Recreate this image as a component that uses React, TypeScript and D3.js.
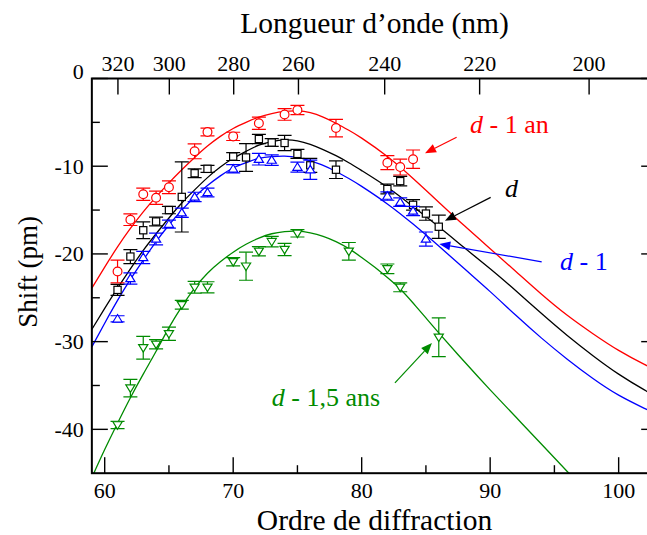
import React from 'react';
import * as d3 from 'd3';

const W = 647;
const H = 535;

// ---------- axes ----------
const orderDomain = [59, 103];
const shiftDomain = [-45, 0];
const bottomMajor = [60, 70, 80, 90, 100];
const bottomMinor = [65, 75, 85, 95];
const leftMajor = [0, -10, -20, -30, -40];
const leftMinor = [-5, -15, -25, -35];
const waveLabels = [320, 300, 280, 260, 240, 220, 200];
const waveOrders = [61.03, 65.03, 70.04, 75.08, 81.79, 89.18, 97.7];

// ---------- measured points ----------
const redOrders = [61, 62, 63, 64, 65, 67, 68, 70, 72, 74, 75, 78, 82, 83, 84];
const redValues = [-22.0, -16.1, -13.2, -13.6, -12.4, -8.3, -6.1, -6.6, -5.1, -4.1, -3.6, -5.65, -9.6, -10.1, -9.2];
const redErrors = [1.3, 0.66, 0.7, 0.75, 0.72, 0.85, 0.45, 0.47, 0.7, 0.66, 0.53, 1.0, 0.8, 0.9, 1.05];

const blackOrders = [61, 62, 63, 64, 65, 66, 67, 68, 70, 71, 72, 73, 74, 75, 76, 78, 82, 83, 84, 85, 86];
const blackValues = [-24.1, -20.3, -17.3, -16.3, -15.0, -13.5, -10.8, -10.3, -8.9, -9.0, -6.9, -7.3, -7.35, -8.6, -9.9, -10.4, -12.6, -11.7, -14.4, -15.4, -16.9];
const blackErrors = [0.63, 0.8, 0.95, 0.5, 0.42, 4.0, 0.5, 0.4, 0.45, 1.58, 0.53, 0.44, 0.87, 0.51, 0.8, 1.0, 0.55, 0.55, 0.6, 0.76, 1.33];

const blueOrders = [61, 62, 63, 64, 65, 66, 67, 68, 70, 72, 73, 75, 76, 82, 83, 84, 85];
const blueValues = [-27.4, -22.8, -20.4, -18.3, -16.6, -15.3, -13.5, -13.0, -10.3, -9.2, -9.3, -10.1, -10.4, -13.4, -14.1, -15.1, -18.3];
const blueErrors = [0.35, 0.65, 0.7, 0.66, 0.45, 0.53, 0.53, 0.5, 0.47, 0.66, 0.6, 0.57, 1.1, 0.48, 0.48, 0.53, 0.8];

const greenOrders = [61, 62, 63, 64, 65, 66, 67, 68, 70, 71, 72, 73, 74, 75, 79, 82, 83, 86];
const greenValues = [-39.5, -35.3, -30.7, -30.3, -29.1, -25.8, -23.8, -23.8, -20.9, -21.4, -19.7, -18.6, -19.5, -17.65, -19.7, -21.7, -23.8, -29.5];
const greenErrors = [0.42, 1.0, 1.3, 0.53, 0.76, 0.5, 0.66, 0.63, 0.47, 1.6, 0.53, 0.6, 0.7, 0.42, 1.0, 0.55, 0.51, 2.2];

// ---------- fitted curves ----------
const fitOrders = [59, 60, 61, 62, 63, 64, 65, 66, 67, 68, 69, 70, 71, 72, 73, 74, 75, 76, 77, 78, 79, 80, 82, 84, 86, 88, 90, 92, 94, 96, 98, 100, 102, 103];
const redFit = [-23.9, -21.5, -19.2, -17.1, -15.2, -13.5, -11.9, -10.4, -9.0, -7.7, -6.6, -5.7, -5.0, -4.4, -4.0, -3.75, -3.7, -3.9, -4.4, -5.1, -5.9, -6.8, -8.9, -11.4, -14.1, -16.8, -19.4, -22.0, -24.6, -27.0, -29.1, -31.0, -32.6, -33.3];
const blackFit = [-28.6, -26.2, -23.9, -21.7, -19.6, -17.7, -15.9, -14.2, -12.7, -11.3, -10.1, -9.1, -8.3, -7.6, -7.2, -7.0, -7.1, -7.5, -8.1, -8.8, -9.6, -10.5, -12.4, -14.6, -16.9, -19.3, -21.7, -24.2, -26.8, -29.3, -31.6, -33.7, -35.5, -36.3];
const blueFit = [-30.6, -27.9, -25.3, -22.9, -20.7, -18.6, -16.7, -15.0, -13.5, -12.2, -11.1, -10.2, -9.6, -9.1, -8.9, -8.85, -9.0, -9.4, -9.9, -10.6, -11.4, -12.3, -14.3, -16.6, -19.1, -21.7, -24.3, -27.0, -29.6, -32.0, -34.2, -36.1, -37.6, -38.3];
const greenFitOrders = [59, 60, 61, 62, 63, 64, 65, 66, 67, 68, 69, 70, 71, 72, 73, 74, 75, 76, 77, 78, 79, 80, 81, 82, 83, 84, 85, 86, 88, 90, 92, 94, 96, 97];
const greenFit = [-45.5, -42.3, -39.3, -36.4, -33.7, -31.1, -28.4, -26.0, -23.9, -22.2, -20.9, -19.8, -18.9, -18.2, -17.7, -17.45, -17.4, -17.6, -18.0, -18.6, -19.4, -20.4, -21.5, -22.7, -24.0, -25.6, -27.3, -29.0, -32.3, -35.5, -38.6, -41.7, -44.8, -46.3];

// ---------- annotations (data coordinates) ----------
const annoLabels = ['- 1 an', '', '- 1', '- 1,5 ans'];
const annoText = [[88.43, -6.2], [91.15, -13.5], [95.44, -21.85], [73.0, -37.3]];
const annoFrom = [[87.39, -6.7], [90.04, -13.55], [94.01, -20.9], [82.59, -34.7]];
const annoTo = [[84.93, -8.53], [86.48, -16.21], [86.04, -18.87], [85.47, -30.16]];

const RED = '#ff0000';
const BLACK = '#000000';
const BLUE = '#0000ff';
const GREEN = '#008b00';
const annoColors = [RED, BLACK, BLUE, GREEN];

const FONT = "'Liberation Serif', 'Times New Roman', Times, serif";

const x = d3.scaleLinear().domain(orderDomain).range([91.85, 657.2]);
const y = d3.scaleLinear().domain(shiftDomain).range([473.2, 78.5]);

type Kind = 'circle' | 'square' | 'up' | 'down';

function Marker({ cx, cy, kind, color }: { cx: number; cy: number; kind: Kind; color: string }) {
  const sw = 1.2;
  if (kind === 'circle') return <circle cx={cx} cy={cy} r={4.4} fill="white" stroke={color} strokeWidth={sw} />;
  if (kind === 'square') return <rect x={cx - 3.6} y={cy - 3.6} width={7.2} height={7.2} fill="white" stroke={color} strokeWidth={sw} />;
  if (kind === 'up') return <polygon points={`${cx},${cy - 4.3} ${cx + 4.6},${cy + 3.2} ${cx - 4.6},${cy + 3.2}`} fill="white" stroke={color} strokeWidth={sw} />;
  return <polygon points={`${cx},${cy + 4.3} ${cx + 4.6},${cy - 3.2} ${cx - 4.6},${cy - 3.2}`} fill="white" stroke={color} strokeWidth={sw} />;
}

function Series({ orders, values, errors, color, kind }: { orders: number[]; values: number[]; errors: number[]; color: string; kind: Kind }) {
  return (
    <g>
      {orders.map((o, i) => {
        const cx = x(o);
        const y1 = y(values[i] + errors[i]);
        const y2 = y(values[i] - errors[i]);
        return (
          <g key={i} stroke={color} strokeWidth={1.2}>
            <line x1={cx} x2={cx} y1={y1} y2={y2} />
            <line x1={cx - 7} x2={cx + 7} y1={y1} y2={y1} />
            <line x1={cx - 7} x2={cx + 7} y1={y2} y2={y2} />
          </g>
        );
      })}
      {orders.map((o, i) => (
        <Marker key={'m' + i} cx={x(o)} cy={y(values[i])} kind={kind} color={color} />
      ))}
    </g>
  );
}

function Arrow({ from, to, color }: { from: number[]; to: number[]; color: string }) {
  const x1 = x(from[0]), y1 = y(from[1]);
  const x2 = x(to[0]), y2 = y(to[1]);
  const ang = Math.atan2(y2 - y1, x2 - x1);
  const L = 11, Wd = 4.5;
  const bx = x2 - L * Math.cos(ang), by = y2 - L * Math.sin(ang);
  const px = -Math.sin(ang) * Wd, py = Math.cos(ang) * Wd;
  return (
    <g>
      <line x1={x1} y1={y1} x2={bx} y2={by} stroke={color} strokeWidth={1.2} />
      <polygon points={`${x2},${y2} ${bx + px},${by + py} ${bx - px},${by - py}`} fill={color} />
    </g>
  );
}

export default function App() {
  const line = d3.line<[number, number]>().x(d => x(d[0])).y(d => y(d[1])).curve(d3.curveNatural);
  const fits: [number[], number[], string][] = [
    [fitOrders, redFit, RED],
    [fitOrders, blackFit, BLACK],
    [fitOrders, blueFit, BLUE],
    [greenFitOrders, greenFit, GREEN],
  ];
  const left = x(orderDomain[0]);
  const right = x(orderDomain[1]);
  const top = y(shiftDomain[1]);
  const bottom = y(shiftDomain[0]);
  const midX = (left + right) / 2;
  const midY = (top + bottom) / 2;
  const tf = { fontFamily: FONT };

  return (
    <svg width={W} height={H} style={{ position: 'absolute', left: 0, top: 0, background: 'white', fontFamily: FONT }}>
      <defs>
        <clipPath id="plot">
          <rect x={left} y={top} width={right - left} height={bottom - top} />
        </clipPath>
      </defs>
      <rect x={0} y={0} width={W} height={H} fill="white" />

      <g clipPath="url(#plot)">
        {fits.map(([os, vs, c], i) => (
          <path key={i} d={line(os.map((o, j) => [o, vs[j]] as [number, number])) || ''} fill="none" stroke={c} strokeWidth={1.3} />
        ))}
        <Series orders={redOrders} values={redValues} errors={redErrors} color={RED} kind="circle" />
        <Series orders={blackOrders} values={blackValues} errors={blackErrors} color={BLACK} kind="square" />
        <Series orders={blueOrders} values={blueValues} errors={blueErrors} color={BLUE} kind="up" />
        <Series orders={greenOrders} values={greenValues} errors={greenErrors} color={GREEN} kind="down" />
      </g>

      {/* frame */}
      <rect x={left} y={top} width={right - left} height={bottom - top} fill="none" stroke="black" strokeWidth={2} />

      {/* ticks */}
      <g stroke="black" strokeWidth={1.4}>
        {bottomMajor.map(t => <line key={'bM' + t} x1={x(t)} x2={x(t)} y1={bottom} y2={bottom - 16} />)}
        {bottomMinor.map(t => <line key={'bm' + t} x1={x(t)} x2={x(t)} y1={bottom} y2={bottom - 8} />)}
        {waveOrders.map((o, i) => <line key={'t' + i} x1={x(o)} x2={x(o)} y1={top} y2={top + 16} />)}
        {leftMajor.map(t => <line key={'lM' + t} x1={left} x2={left + 16} y1={y(t)} y2={y(t)} />)}
        {leftMinor.map(t => <line key={'lm' + t} x1={left} x2={left + 8} y1={y(t)} y2={y(t)} />)}
        {leftMajor.map(t => <line key={'rM' + t} x1={right} x2={right - 16} y1={y(t)} y2={y(t)} />)}
        {leftMinor.map(t => <line key={'rm' + t} x1={right} x2={right - 8} y1={y(t)} y2={y(t)} />)}
      </g>

      {/* tick labels */}
      <g fontSize={22} fill="black">
        {bottomMajor.map(t => (
          <text key={'bl' + t} style={tf} x={x(t)} y={bottom + 24.5} textAnchor="middle">{t}</text>
        ))}
        {waveLabels.map((w, i) => (
          <text key={'wl' + w} style={tf} x={x(waveOrders[i])} y={top - 8} textAnchor="middle">{w}</text>
        ))}
        {leftMajor.map(t => (
          <text key={'ll' + t} style={tf} x={left - 8} y={y(t) + (t === shiftDomain[1] ? 0 : 7.5)} textAnchor="end">{t === 0 ? '0' : '-' + Math.abs(t)}</text>
        ))}
      </g>

      {/* axis titles */}
      <g fill="black">
        <text style={tf} fontSize={29.5} x={midX} y={33} textAnchor="middle">Longueur d’onde (nm)</text>
        <text style={tf} fontSize={29.5} x={midX} y={530} textAnchor="middle">Ordre de diffraction</text>
        <text style={tf} fontSize={27} transform={`translate(37,${midY - 4}) rotate(-90)`} textAnchor="middle">Shift (pm)</text>
      </g>

      {/* annotations */}
      {annoText.map((p, i) => (
        <g key={'a' + i}>
          <Arrow from={annoFrom[i]} to={annoTo[i]} color={annoColors[i]} />
          <text style={tf} x={x(p[0])} y={y(p[1])} fontSize={26} fill={annoColors[i]}>
            <tspan fontStyle="italic">d</tspan>
            {annoLabels[i] ? <tspan>{' ' + annoLabels[i]}</tspan> : null}
          </text>
        </g>
      ))}
    </svg>
  );
}
